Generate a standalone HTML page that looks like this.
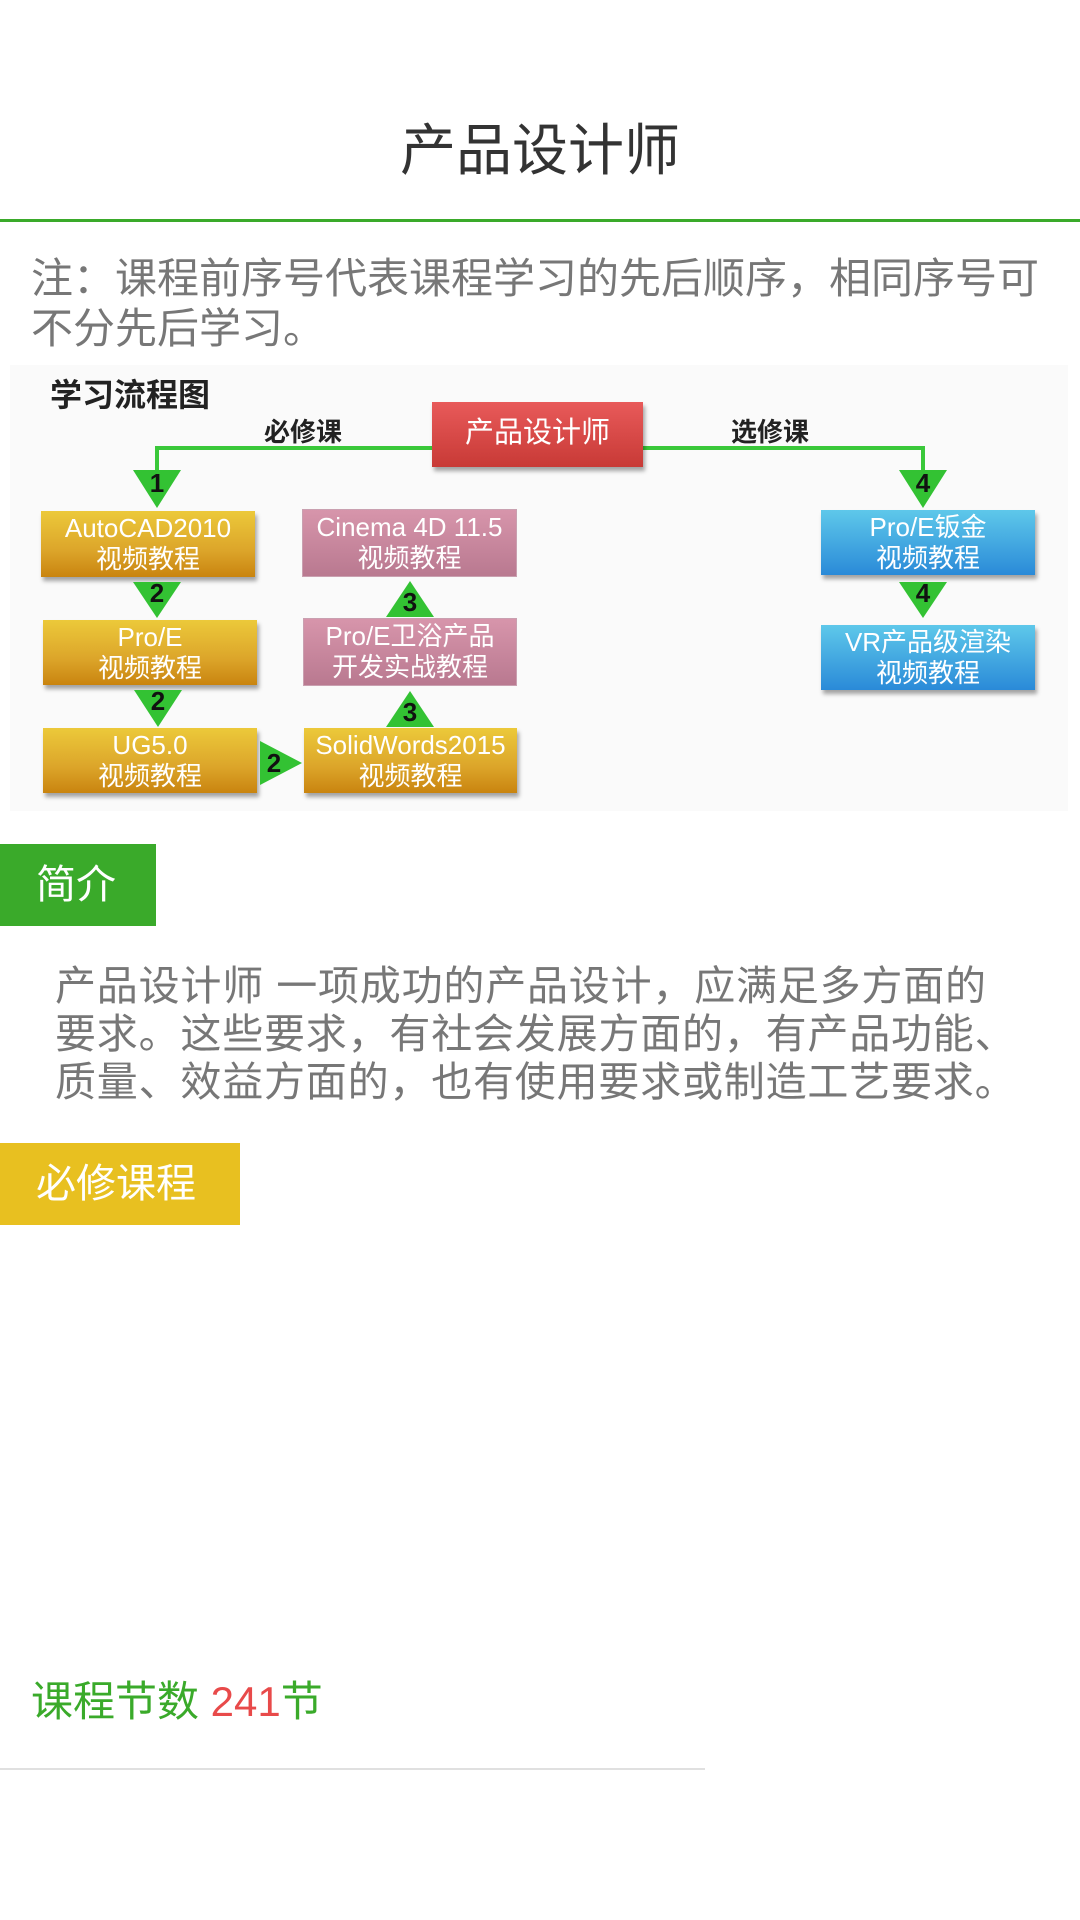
<!DOCTYPE html>
<html><head><meta charset="utf-8"><style>
*{margin:0;padding:0;box-sizing:border-box}
body{width:1080px;height:1920px;background:#fff;position:relative;overflow:hidden;font-family:"Liberation Sans","Noto Sans CJK SC",sans-serif}
.a{position:absolute}
.box{position:absolute;color:#fff;text-align:center;font-size:26px;line-height:31px;padding-top:2px;box-shadow:2px 4px 4px rgba(0,0,0,.35);white-space:nowrap}
.or{background:linear-gradient(#ecc93a,#dca52a 60%,#c9840f)}
.pk{background:linear-gradient(#d795ab,#b97990);border:1px solid #c9a0b0;box-shadow:none}
.bl{background:linear-gradient(#5ec8ea,#2a8ad8)}
.tri{position:absolute;width:0;height:0}
.num{position:absolute;font-size:26px;font-weight:bold;color:#111;width:48px;text-align:center}
</style></head><body>
<div class="a" style="left:0;top:116px;width:1080px;text-align:center;font-size:56px;color:#333;line-height:70px">产品设计师</div>
<div class="a" style="left:0;top:219px;width:1080px;height:3px;background:#3aaa2a"></div>
<div class="a" style="left:31px;top:254px;width:1030px;font-size:42px;line-height:50px;color:#777">注：课程前序号代表课程学习的先后顺序，相同序号可不分先后学习。</div>

<div class="a" style="left:10px;top:365px;width:1058px;height:446px;background:#fafafa"></div>
<div class="a" style="left:50px;top:370px;font-size:32px;font-weight:bold;color:#222">学习流程图</div>
<div class="a" style="left:264px;top:412px;font-size:26px;font-weight:bold;color:#222">必修课</div>
<div class="a" style="left:731px;top:412px;font-size:26px;font-weight:bold;color:#222">选修课</div>
<div class="a" style="left:155px;top:446px;width:770px;height:4px;background:#3ac83a"></div>
<div class="a" style="left:155px;top:446px;width:4px;height:30px;background:#3ac83a"></div>
<div class="a" style="left:921px;top:446px;width:4px;height:30px;background:#3ac83a"></div>
<div class="box" style="left:432px;top:402px;width:211px;height:65px;background:linear-gradient(#e85a5a,#c83a36);font-size:29px;line-height:58px">产品设计师</div>

<div class="tri" style="left:133px;top:470px;border-left:24px solid transparent;border-right:24px solid transparent;border-top:38px solid #33c233"></div><div class="num" style="left:133px;top:468px">1</div>
<div class="box or" style="left:41px;top:511px;width:214px;height:66px">AutoCAD2010<br>视频教程</div>
<div class="tri" style="left:133px;top:582px;border-left:24px solid transparent;border-right:24px solid transparent;border-top:36px solid #33c233"></div><div class="num" style="left:133px;top:578px">2</div>
<div class="box or" style="left:43px;top:620px;width:214px;height:65px">Pro/E<br>视频教程</div>
<div class="tri" style="left:134px;top:690px;border-left:24px solid transparent;border-right:24px solid transparent;border-top:37px solid #33c233"></div><div class="num" style="left:134px;top:686px">2</div>
<div class="box or" style="left:43px;top:728px;width:214px;height:65px">UG5.0<br>视频教程</div>
<div class="tri" style="left:260px;top:741px;border-top:22px solid transparent;border-bottom:22px solid transparent;border-left:42px solid #33c233"></div><div class="num" style="left:250px;top:748px">2</div>
<div class="box or" style="left:304px;top:728px;width:213px;height:65px">SolidWords2015<br>视频教程</div>
<div class="tri" style="left:386px;top:691px;border-left:24px solid transparent;border-right:24px solid transparent;border-bottom:36px solid #33c233"></div><div class="num" style="left:386px;top:697px">3</div>
<div class="box pk" style="left:303px;top:618px;width:214px;height:68px">Pro/E卫浴产品<br>开发实战教程</div>
<div class="tri" style="left:386px;top:581px;border-left:24px solid transparent;border-right:24px solid transparent;border-bottom:36px solid #33c233"></div><div class="num" style="left:386px;top:587px">3</div>
<div class="box pk" style="left:302px;top:509px;width:215px;height:68px">Cinema 4D 11.5<br>视频教程</div>

<div class="tri" style="left:899px;top:470px;border-left:24px solid transparent;border-right:24px solid transparent;border-top:38px solid #33c233"></div><div class="num" style="left:899px;top:468px">4</div>
<div class="box bl" style="left:821px;top:510px;width:214px;height:65px">Pro/E钣金<br>视频教程</div>
<div class="tri" style="left:899px;top:582px;border-left:24px solid transparent;border-right:24px solid transparent;border-top:36px solid #33c233"></div><div class="num" style="left:899px;top:578px">4</div>
<div class="box bl" style="left:821px;top:625px;width:214px;height:65px">VR产品级渲染<br>视频教程</div>

<div class="a" style="left:0;top:844px;width:156px;height:82px;background:#3aaa2a;color:#fff;font-size:40px;line-height:82px;padding-left:36px">简介</div>
<div class="a" style="left:55px;top:962px;width:1020px;font-size:41px;line-height:48px;color:#777;white-space:nowrap;letter-spacing:0.8px">产品设计师 一项成功的产品设计，应满足多方面的<br>要求。这些要求，有社会发展方面的，有产品功能、<br>质量、效益方面的，也有使用要求或制造工艺要求。</div>
<div class="a" style="left:0;top:1143px;width:240px;height:82px;background:#e8c020;color:#fff;font-size:40px;line-height:82px;padding-left:36px">必修课程</div>
<div class="a" style="left:31px;top:1676px;font-size:42px;line-height:52px;color:#3aaa2a">课程节数 <span style="color:#e84a4a">241</span>节</div>
<div class="a" style="left:0;top:1768px;width:705px;height:2px;background:#e0e0e0"></div>
</body></html>
